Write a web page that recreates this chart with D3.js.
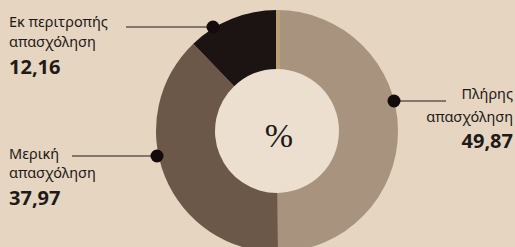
<!doctype html>
<html lang="el">
<head>
	<meta charset="UTF-8">
	<title>Απασχόληση %</title>
	<style>
		html, body { margin: 0; padding: 0; background: #e5d5c1; }
		svg { display: block; }
		.lbl { font-family: "Noto Sans", sans-serif; font-size: 14.5px; fill: #1e1a18; }
		.val { font-family: "Noto Sans", sans-serif; font-size: 20px; font-weight: bold; fill: #1e1a18; }
		.pct { font-family: "Liberation Serif", serif; font-size: 34px; fill: #1e1a18; text-anchor: middle; }
	</style>
</head>
<body>
	<script src="https://cdn.jsdelivr.net/npm/d3@7"></script>
	<script>
		var categories = ['Πλήρης απασχόληση', 'Μερική απασχόληση', 'Εκ περιτροπής απασχόληση'],
			labelLines = [['Πλήρης', 'απασχόληση'], ['Μερική', 'απασχόληση'], ['Εκ περιτροπής', 'απασχόληση']],
			values = [49.87, 37.97, 12.16],
			valueLabels = ['49,87', '37,97', '12,16'],
			colors = ['#a8947e', '#6c5848', '#1c1313'];

		var w = 515,
			h = 247,
			cx = 277,
			cy = 131,
			rOuter = 121,
			rInner = 62;

		var svg = d3.select('body')
			.append('svg')
			.attr('width', w)
			.attr('height', h);

		var pie = d3.pie().sort(null).value(function(d) { return d; });
		var arcs = pie(values);

		var arc = d3.arc().innerRadius(rInner).outerRadius(rOuter);

		var g = svg.append('g').attr('transform', 'translate(' + cx + ',' + cy + ')');

		// inner hole is a touch lighter than the paper
		g.append('circle')
			.attr('r', rInner)
			.attr('fill', '#ecdfcf');

		g.selectAll('path')
			.data(arcs)
			.enter()
			.append('path')
			.attr('d', arc)
			.attr('fill', function(d, i) { return colors[i]; });

		// thin light seam at the start of the first slice
		g.append('line')
			.attr('x1', 1).attr('y1', -rInner)
			.attr('x2', 1).attr('y2', -rOuter)
			.attr('stroke', '#b9a272')
			.attr('stroke-width', 4);

		g.append('text')
			.attr('class', 'pct')
			.attr('x', 2)
			.attr('y', 16)
			.text('%');

		// callouts: dot on the slice edge, line towards the text
		var callouts = [
			{ dot: [394, 101], lineTo: 446, tx: 513, anchor: 'end', y: [99, 122, 148] },
			{ dot: [157, 156], lineTo: 72, tx: 9, anchor: 'start', y: [159, 178, 205] },
			{ dot: [213, 27], lineTo: 126, tx: 9, anchor: 'start', y: [27, 47, 74] }
		];

		var ann = svg.append('g');

		callouts.forEach(function(c, i) {
			ann.append('line')
				.attr('x1', c.dot[0]).attr('y1', c.dot[1])
				.attr('x2', c.lineTo).attr('y2', c.dot[1])
				.attr('stroke', '#1e1a18')
				.attr('stroke-width', 1.2);

			ann.append('circle')
				.attr('cx', c.dot[0]).attr('cy', c.dot[1])
				.attr('r', 6.5)
				.attr('fill', '#140c0c');

			labelLines[i].forEach(function(t, j) {
				ann.append('text')
					.attr('class', 'lbl')
					.attr('x', c.tx)
					.attr('y', c.y[j])
					.attr('text-anchor', c.anchor)
					.text(t);
			});

			ann.append('text')
				.attr('class', 'val')
				.attr('x', c.tx)
				.attr('y', c.y[2])
				.attr('text-anchor', c.anchor)
				.text(valueLabels[i]);
		});
	</script>
</body>
</html>
